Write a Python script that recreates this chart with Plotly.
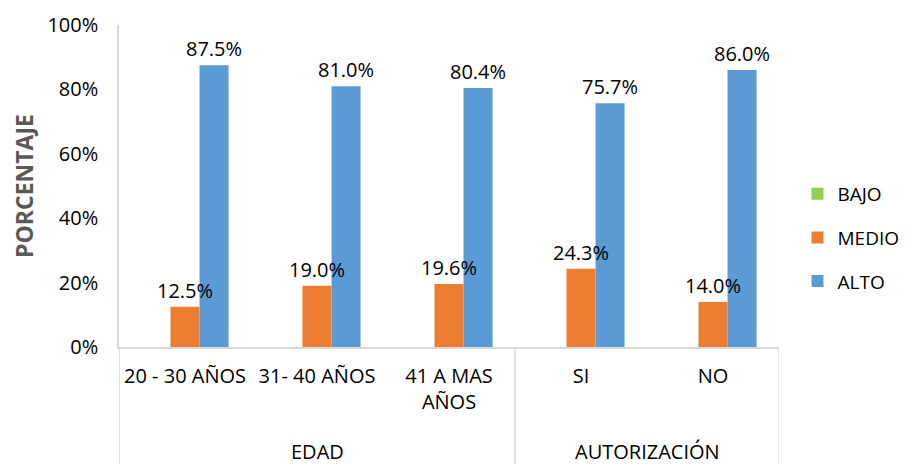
import plotly.graph_objects as go

groups = ["EDAD", "AUTORIZACIÓN"]
group_sizes = [3, 2]
categories = ["20 - 30 AÑOS", "31- 40 AÑOS", "41 A MAS<br>AÑOS", "SI", "NO"]
bajo = [0, 0, 0, 0, 0]
medio = [12.5, 19.0, 19.6, 24.3, 14.0]
alto = [87.5, 81.0, 80.4, 75.7, 86.0]

FONT = "Open Sans"
GRID = "#D9D9D9"
BAR_W = 0.22

fig = go.Figure()
# drawn in reverse order so every value label sits on top of neighbouring bars
fig.add_trace(go.Bar(x=categories, y=[v / 100 for v in alto], name="ALTO",
                     marker_color="#5B9BD5", legendgroup="c", legendrank=3,
                     width=BAR_W, offset=BAR_W / 2,
                     text=[f"{v:.1f}%" for v in alto], textposition="outside"))
fig.add_trace(go.Bar(x=categories, y=[v / 100 for v in medio], name="MEDIO",
                     marker_color="#ED7D31", legendgroup="b", legendrank=2,
                     width=BAR_W, offset=-BAR_W / 2,
                     text=[f"{v:.1f}%" for v in medio], textposition="outside"))
fig.add_trace(go.Bar(x=categories, y=[v / 100 for v in bajo], name="BAJO",
                     marker_color="#92D050", legendgroup="a", legendrank=1,
                     width=BAR_W, offset=-1.5 * BAR_W))

fig.update_traces(textfont=dict(family=FONT, size=20, color="#000000"), cliponaxis=False,
                  constraintext="none", marker_line_width=0)

# group labels and dividers below the category axis
shapes = []
annotations = []
bounds = [-0.5]
for n in group_sizes:
    bounds.append(bounds[-1] + n)
for g, a, b in zip(groups, bounds[:-1], bounds[1:]):
    annotations.append(dict(text=g, x=(a + b) / 2, xref="x", y=-0.323, yref="paper",
                            showarrow=False, xanchor="center", yanchor="middle",
                            font=dict(family=FONT, size=20, color="#000000")))
for b in bounds:
    shapes.append(dict(type="line", xref="x", yref="paper", x0=b, x1=b, y0=0, y1=-0.4,
                       line=dict(color=GRID, width=1.5)))

# the page body adds an 8px offset, so the figure is 8px smaller
fig.update_layout(
    width=902, height=456,
    margin=dict(l=111, r=131, t=17, b=117, autoexpand=False),
    paper_bgcolor="white", plot_bgcolor="white",
    barmode="overlay",
    font=dict(family=FONT, size=20, color="#000000"),
    showlegend=True,
    legend=dict(x=1.028, y=0.339, xanchor="left", yanchor="middle",
                font=dict(family=FONT, size=19, color="#000000"),
                tracegroupgap=16, itemwidth=30, traceorder="grouped"),
    yaxis=dict(range=[0, 1], tickformat=".0%", dtick=0.2, showgrid=False,
               zeroline=False, showline=True, linecolor=GRID, linewidth=1.5,
               ticks="", ticklabelstandoff=15, automargin=False,
               tickfont=dict(family=FONT, size=20),
               title=dict(text="<b>PORCENTAJE</b>",
                          font=dict(family=FONT, size=23, color="#595959"),
                          standoff=16)),
    xaxis=dict(type="category", showline=True, linecolor=GRID, linewidth=1.5,
               ticks="", ticklabelstandoff=10, automargin=False, showgrid=False,
               tickfont=dict(family=FONT, size=20), range=[-0.5, 4.5]),
    shapes=shapes,
    annotations=annotations,
)

fig.write_html("out.html")
